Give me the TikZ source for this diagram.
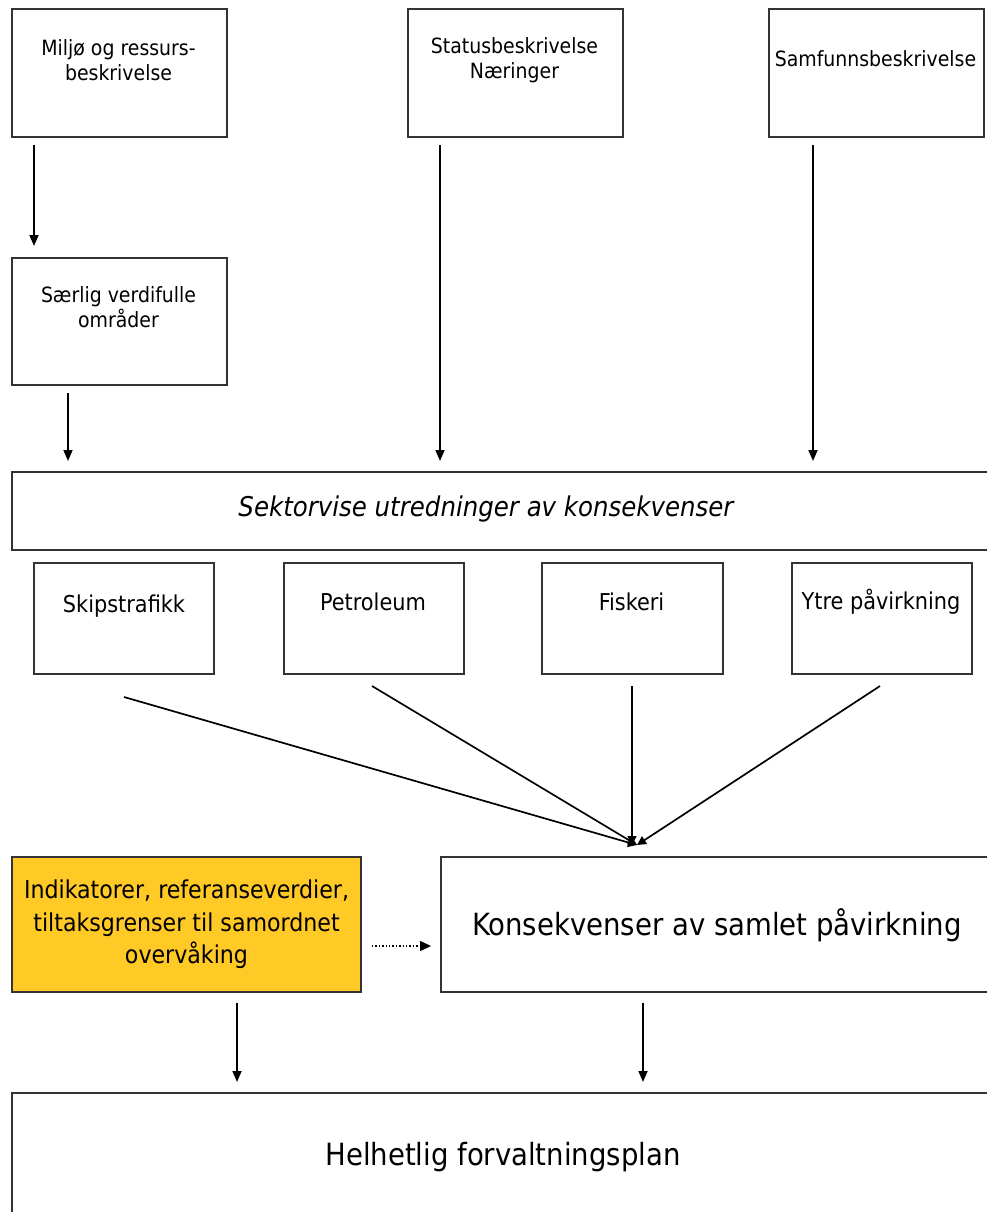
\documentclass[tikz,border=0pt]{standalone}
\usepackage{fontspec}
\setmainfont{DejaVu Sans Condensed}
\usetikzlibrary{arrows.meta}
\definecolor{boxline}{HTML}{333333}
\definecolor{gold}{HTML}{FFC926}
\tikzset{
  box/.style={draw=boxline, line width=1.8pt, rectangle, inner sep=0pt, anchor=north west},
  txt/.style={align=center, inner sep=0pt, font=\fontsize{21}{25}\selectfont},
  smalltxt/.style={txt, font=\fontsize{23.2}{25}\selectfont},
  bigtxt/.style={txt, font=\fontsize{30.6}{32}\selectfont},
  arr/.style={line width=1.7pt, -{Triangle[length=11pt,width=9pt]}},
  conv/.style={line width=1.7pt, -{Triangle[length=9pt,width=9pt]}},
}
\begin{document}
\begin{tikzpicture}[x=1pt,y=-1pt]
\useasboundingbox (0,0) rectangle (987,1212);
\clip (0,0) rectangle (987,1212);
% boxes
\node[box, minimum width=215pt, minimum height=128pt] (miljo) at (11,8) {};
\node[box, minimum width=215pt, minimum height=128pt] (status) at (407,8) {};
\node[box, minimum width=215pt, minimum height=128pt] (samf) at (768,8) {};
\node[box, minimum width=215pt, minimum height=127pt] (saerlig) at (11,257) {};
\node[box, minimum width=990pt, minimum height=78pt] (sektor) at (11,471) {};
\node[box, minimum width=180pt, minimum height=111pt] (skip) at (33,562) {};
\node[box, minimum width=180pt, minimum height=111pt] (petro) at (283,562) {};
\node[box, minimum width=181pt, minimum height=111pt] (fisk) at (541,562) {};
\node[box, minimum width=180pt, minimum height=111pt] (ytre) at (791,562) {};
\node[box, fill=gold, minimum width=349pt, minimum height=135pt] (indik) at (11,856) {};
\node[box, minimum width=560pt, minimum height=135pt] (kons) at (440,856) {};
\node[box, minimum width=990pt, minimum height=130pt] (helhet) at (11,1092) {};
% texts
\node[txt] (tmiljo) at (118.5,60) {Miljø og ressurs-\\beskrivelse};
\node[txt] (tstatus) at (514.5,60) {Statusbeskrivelse\\Næringer};
\node[txt] (tsamf) at (875.5,59) {Samfunnsbeskrivelse};
\node[txt] (tsaerlig) at (118.5,307) {Særlig verdifulle\\områder};
\node[txt, font=\fontsize{27.2}{25}\selectfont\itshape] (tsektor) at (486,509) {Sektorvise utredninger av konsekvenser};
\node[smalltxt] (tskip) at (124,606) {Skipstrafikk};
\node[smalltxt] (tpetro) at (373,602) {Petroleum};
\node[smalltxt] (tfisk) at (631.5,602) {Fiskeri};
\node[smalltxt] (tytre) at (881,602) {Ytre påvirkning};
\node[txt, font=\fontsize{24.6}{32.5}\selectfont] (tindik) at (186.5,924.5) {Indikatorer, referanseverdier,\\tiltaksgrenser til samordnet\\overvåking};
\node[bigtxt] (tkons) at (717,925) {Konsekvenser av samlet påvirkning};
\node[bigtxt] (thelhet) at (503,1157) {Helhetlig forvaltningsplan};
% connector end points
\coordinate (a1s) at (34,145);   \coordinate (a1e) at (34,246);
\coordinate (a2s) at (68,393);   \coordinate (a2e) at (68,461);
\coordinate (a3s) at (440,145);  \coordinate (a3e) at (440,461);
\coordinate (a4s) at (813,145);  \coordinate (a4e) at (813,461);
\coordinate (c1) at (124,697);
\coordinate (c2) at (372,686);
\coordinate (c3) at (632,686);
\coordinate (c4) at (880,686);
\coordinate (cm) at (637,845);
\coordinate (cv) at (632,845);
\coordinate (d1) at (372,946);   \coordinate (d2) at (431,946);
\coordinate (b1s) at (237,1003); \coordinate (b1e) at (237,1082);
\coordinate (b2s) at (643,1003); \coordinate (b2e) at (643,1082);
% arrows
\draw[arr] (a1s) -- (a1e);
\draw[arr] (a2s) -- (a2e);
\draw[arr] (a3s) -- (a3e);
\draw[arr] (a4s) -- (a4e);
\draw[conv] (c1) -- (cm);
\draw[conv] (c2) -- (cm);
\draw[conv] (c3) -- (cv);
\draw[conv] (c4) -- (cm);
\draw[line width=1.4pt, dotted, -{Triangle[length=11pt,width=10pt]}] (d1) -- (d2);
\draw[arr] (b1s) -- (b1e);
\draw[arr] (b2s) -- (b2e);
\end{tikzpicture}
\end{document}
